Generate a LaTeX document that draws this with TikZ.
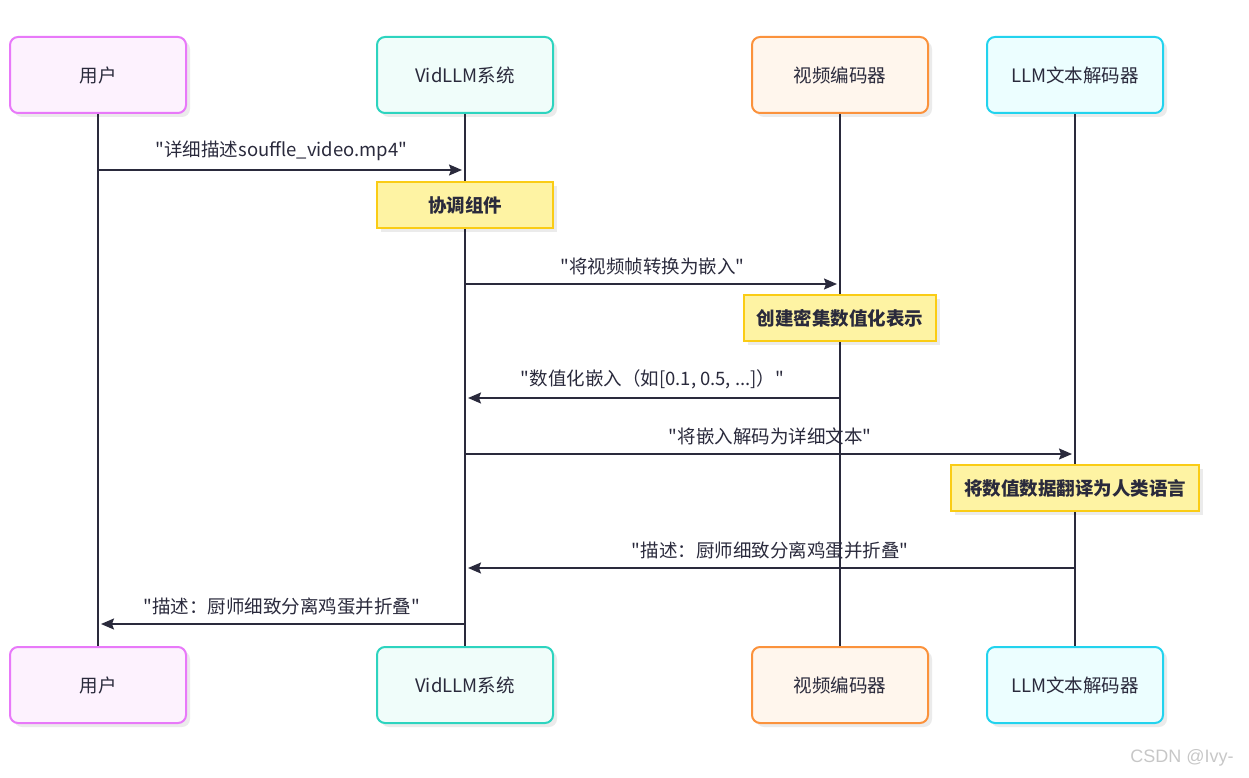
\documentclass[tikz,border=0pt]{standalone}
\usepackage{fontspec}
\newfontfamily\cjksans{Noto Sans CJK SC}
\newfontfamily\marksans{Liberation Sans}
\usetikzlibrary{arrows.meta,shadows}
\definecolor{ink}{HTML}{2A2A3C}
\definecolor{usrline}{HTML}{E879F9}
\definecolor{usrfill}{HTML}{FDF2FE}
\definecolor{sysline}{HTML}{2DD4BF}
\definecolor{sysfill}{HTML}{F0FDFA}
\definecolor{encline}{HTML}{FB923C}
\definecolor{encfill}{HTML}{FFF6ED}
\definecolor{decline}{HTML}{22D3EE}
\definecolor{decfill}{HTML}{ECFEFF}
\definecolor{noteline}{HTML}{FACC15}
\definecolor{notefill}{HTML}{FEF3A3}
\begin{document}
\begin{tikzpicture}[x=1pt, y=-1pt,
    actor/.style={draw, rounded corners=8pt, line width=2pt, minimum width=176pt,
      minimum height=76pt, text=ink, font=\cjksans\fontsize{18.5}{21}\selectfont,
      drop shadow={shadow xshift=4pt, shadow yshift=-4pt, fill=black, opacity=0.08}},
    notebox/.style={draw=noteline, fill=notefill, line width=2pt, minimum height=46pt,
      inner xsep=13pt, text=ink, font=\cjksans\fontsize{18.5}{21}\selectfont\bfseries,
      drop shadow={shadow xshift=4pt, shadow yshift=-4pt, fill=black, opacity=0.08}},
    life/.style={draw=ink, line width=2pt},
    msg/.style={draw=ink, line width=1.6pt, -{Stealth[length=13pt, width=11pt, inset=2pt]}, shorten >=3pt},
    msgtext/.style={midway, above=5pt, text=ink, font=\cjksans\fontsize{18.5}{21}\selectfont}]
  \useasboundingbox (0,0) rectangle (1249,778);
  \node [actor, draw=usrline, fill=usrfill] (usr) at (98,75) {用户};
  \node [actor, draw=sysline, fill=sysfill] (sys) at (465,75) {VidLLM系统};
  \node [actor, draw=encline, fill=encfill] (enc) at (840,75) {视频编码器};
  \node [actor, draw=decline, fill=decfill] (dec) at (1075,75) {LLM文本解码器};
  \node [actor, draw=usrline, fill=usrfill] (usrb) at (98,685) {用户};
  \node [actor, draw=sysline, fill=sysfill] (sysb) at (465,685) {VidLLM系统};
  \node [actor, draw=encline, fill=encfill] (encb) at (840,685) {视频编码器};
  \node [actor, draw=decline, fill=decfill] (decb) at (1075,685) {LLM文本解码器};
  \draw [life] (usr) -- (usrb);
  \draw [life] (sys) -- (sysb);
  \draw [life] (enc) -- (encb);
  \draw [life] (dec) -- (decb);
  \coordinate (r1) at (0,170);
  \coordinate (r2) at (0,284);
  \coordinate (r3) at (0,398);
  \coordinate (r4) at (0,454);
  \coordinate (r5) at (0,568);
  \coordinate (r6) at (0,624);
  \draw [msg] (usr |- r1) -- (sys |- r1) node [msgtext] {"详细描述souffle\_video.mp4"};
  \node [notebox, minimum width=176pt] (plan) at (465,205) {协调组件};
  \draw [msg] (sys |- r2) -- (enc |- r2) node [msgtext] {"将视频帧转换为嵌入"};
  \node [notebox] (embed) at (840,318) {创建密集数值化表示};
  \draw [msg] (enc |- r3) -- (sys |- r3) node [msgtext] {"数值化嵌入（如[0.1, 0.5, ...]）"};
  \draw [msg] (sys |- r4) -- (dec |- r4) node [msgtext] {"将嵌入解码为详细文本"};
  \node [notebox] (trans) at (1075,488) {将数值数据翻译为人类语言};
  \draw [msg] (dec |- r5) -- (sys |- r5) node [msgtext] {"描述：厨师细致分离鸡蛋并折叠"};
  \draw [msg] (sys |- r6) -- (usr |- r6) node [msgtext] {"描述：厨师细致分离鸡蛋并折叠"};
  \node [text=black!22, font=\marksans\fontsize{18}{20}\selectfont] (mark) at (1182,758) {CSDN @Ivy-};
\end{tikzpicture}
\end{document}
